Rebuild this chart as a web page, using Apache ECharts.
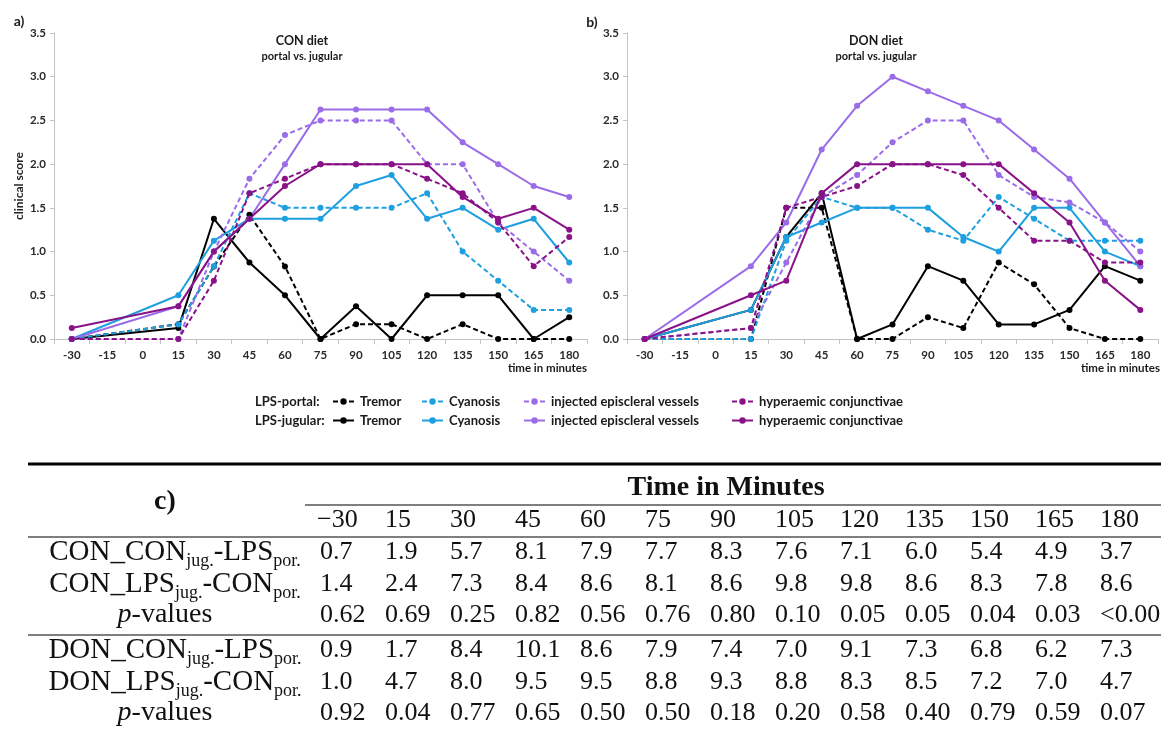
<!DOCTYPE html>
<html>
<head>
<meta charset="utf-8">
<script src="https://cdn.jsdelivr.net/npm/echarts@6/dist/echarts.min.js"></script>
<style>
  html, body { margin: 0; padding: 0; background: #fff; }
  #main { width: 1161px; height: 731px; }
</style>
</head>
<body>
<div id="main"></div>
<script>
// Sampling times (minutes); -15 and 0 have no observations
const times = ['-30', '-15', '0', '15', '30', '45', '60', '75', '90', '105', '120', '135', '150', '165', '180'];
const yTicks = [0, 0.5, 1, 1.5, 2, 2.5, 3, 3.5];

// CON diet, mean clinical scores
const conPortalTremor = [0, null, null, 0.17, 0.83, 1.42, 0.83, 0, 0.17, 0.17, 0, 0.17, 0, 0, 0];
const conJugTremor    = [0, null, null, 0.125, 1.375, 0.875, 0.5, 0, 0.375, 0, 0.5, 0.5, 0.5, 0, 0.25];
const conPortalCyan   = [0, null, null, 0.167, 0.833, 1.667, 1.5, 1.5, 1.5, 1.5, 1.667, 1.0, 0.667, 0.333, 0.333];
const conJugCyan      = [0, null, null, 0.5, 1.125, 1.375, 1.375, 1.375, 1.75, 1.875, 1.375, 1.5, 1.25, 1.375, 0.875];
const conPortalInj    = [0, null, null, 0, 1.0, 1.833, 2.333, 2.5, 2.5, 2.5, 2.0, 2.0, 1.333, 1.0, 0.667];
const conJugInj       = [0, null, null, 0.375, 1.0, 1.375, 2.0, 2.625, 2.625, 2.625, 2.625, 2.25, 2.0, 1.75, 1.625];
const conPortalHyp    = [0, null, null, 0, 0.667, 1.667, 1.833, 2.0, 2.0, 2.0, 1.833, 1.667, 1.333, 0.833, 1.167];
const conJugHyp       = [0.125, null, null, 0.375, 1.0, 1.375, 1.75, 2.0, 2.0, 2.0, 2.0, 1.625, 1.375, 1.5, 1.25];

// DON diet, mean clinical scores
const donPortalTremor = [0, null, null, 0, 1.5, 1.5, 0, 0, 0.25, 0.125, 0.875, 0.625, 0.125, 0, 0];
const donJugTremor    = [0, null, null, 0.333, 1.167, 1.667, 0, 0.167, 0.833, 0.667, 0.167, 0.167, 0.333, 0.833, 0.667];
const donPortalCyan   = [0, null, null, 0, 1.125, 1.625, 1.5, 1.5, 1.25, 1.125, 1.625, 1.375, 1.125, 1.125, 1.125];
const donJugCyan      = [0, null, null, 0.333, 1.167, 1.333, 1.5, 1.5, 1.5, 1.167, 1.0, 1.5, 1.5, 1.0, 0.833];
const donPortalInj    = [0, null, null, 0.125, 0.875, 1.625, 1.875, 2.25, 2.5, 2.5, 1.875, 1.625, 1.5625, 1.333, 1.0];
const donJugInj       = [0, null, null, 0.833, 1.333, 2.167, 2.667, 3.0, 2.833, 2.667, 2.5, 2.167, 1.833, 1.333, 0.833];
const donPortalHyp    = [0, null, null, 0.125, 1.5, 1.625, 1.75, 2.0, 2.0, 1.875, 1.5, 1.125, 1.125, 0.875, 0.875];
const donJugHyp       = [0, null, null, 0.5, 0.667, 1.667, 2.0, 2.0, 2.0, 2.0, 2.0, 1.667, 1.333, 0.667, 0.333];

// Table c): values per time point
const tableTimes = ['\u221230', '15', '30', '45', '60', '75', '90', '105', '120', '135', '150', '165', '180'];
const conConJug = ['0.7', '1.9', '5.7', '8.1', '7.9', '7.7', '8.3', '7.6', '7.1', '6.0', '5.4', '4.9', '3.7'];
const conLpsJug = ['1.4', '2.4', '7.3', '8.4', '8.6', '8.1', '8.6', '9.8', '9.8', '8.6', '8.3', '7.8', '8.6'];
const conPValues = ['0.62', '0.69', '0.25', '0.82', '0.56', '0.76', '0.80', '0.10', '0.05', '0.05', '0.04', '0.03', '<0.001'];
const donConJug = ['0.9', '1.7', '8.4', '10.1', '8.6', '7.9', '7.4', '7.0', '9.1', '7.3', '6.8', '6.2', '7.3'];
const donLpsJug = ['1.0', '4.7', '8.0', '9.5', '9.5', '8.8', '9.3', '8.8', '8.3', '8.5', '7.2', '7.0', '4.7'];
const donPValues = ['0.92', '0.04', '0.77', '0.65', '0.50', '0.50', '0.18', '0.20', '0.58', '0.40', '0.79', '0.59', '0.07'];

const C_BLACK = '#000000';
const C_BLUE = '#1e9fe0';
const C_LAV = '#9a6ce8';
const C_PURP = '#8a1289';

const sans = 'Lato, "Open Sans", sans-serif';
const serif = '"Liberation Serif", "DejaVu Serif", serif';

function line(name, data, color, dashed, idx) {
  return {
    name, type: 'line', xAxisIndex: idx, yAxisIndex: idx, data,
    connectNulls: true, symbol: 'circle', symbolSize: 6, showSymbol: true,
    lineStyle: { color, width: 2, type: dashed ? [5, 3] : 'solid' },
    itemStyle: { color },
    emphasis: { disabled: true }
  };
}

const series = [];
[[0, [conPortalTremor, conJugTremor, conPortalCyan, conJugCyan, conPortalInj, conJugInj, conPortalHyp, conJugHyp]],
 [1, [donPortalTremor, donJugTremor, donPortalCyan, donJugCyan, donPortalInj, donJugInj, donPortalHyp, donJugHyp]]]
  .forEach(([idx, d]) => {
    series.push(line('portal Tremor', d[0], C_BLACK, true, idx));
    series.push(line('jugular Tremor', d[1], C_BLACK, false, idx));
    series.push(line('portal Cyanosis', d[2], C_BLUE, true, idx));
    series.push(line('jugular Cyanosis', d[3], C_BLUE, false, idx));
    series.push(line('portal injected episcleral vessels', d[4], C_LAV, true, idx));
    series.push(line('jugular injected episcleral vessels', d[5], C_LAV, false, idx));
    series.push(line('portal hyperaemic conjunctivae', d[6], C_PURP, true, idx));
    series.push(line('jugular hyperaemic conjunctivae', d[7], C_PURP, false, idx));
  });

const axisGray = '#c4c4c4';
const tickFont = { fontFamily: sans, fontSize: 11.5, fontWeight: 'bold', color: '#2a2a2a' };

function xAx(idx) {
  return {
    type: 'category', gridIndex: idx, data: times, boundaryGap: true,
    axisLine: { lineStyle: { color: axisGray, width: 1 } },
    axisTick: { show: true, length: 5, lineStyle: { color: axisGray } },
    axisLabel: Object.assign({ margin: 10, interval: 0 }, tickFont),
    splitLine: { show: false }
  };
}
function yAx(idx, name) {
  return {
    type: 'value', gridIndex: idx, min: yTicks[0], max: yTicks[yTicks.length - 1], interval: 0.5,
    name: name, nameLocation: 'middle', nameGap: 29, nameRotate: 90,
    nameTextStyle: { fontFamily: sans, fontSize: 12, fontWeight: 'bold', color: '#222' },
    axisLine: { show: true, lineStyle: { color: axisGray, width: 1 } },
    axisTick: { show: true, length: 4, lineStyle: { color: axisGray } },
    axisLabel: Object.assign({ margin: 8, formatter: v => v.toFixed(1) }, tickFont),
    splitLine: { show: false }
  };
}

// Legend: one component per entry so each sits in its own column
const legendCols = [
  ['Tremor', 332], ['Cyanosis', 421], ['injected episcleral vessels', 523], ['hyperaemic conjunctivae', 731]
];
const legends = [];
[['portal', 395], ['jugular', 414]].forEach(([route, top]) => {
  legendCols.forEach(([label, left]) => {
    legends.push({
      data: [route + ' ' + label], left, top, padding: 0,
      itemWidth: 21, itemHeight: 8, selectedMode: false,
      formatter: n => n.replace(/^(portal|jugular) /, ''),
      textStyle: { fontFamily: sans, fontSize: 13, fontWeight: 'bold', color: '#1a1a1a', padding: [0, 0, 0, 1] }
    });
  });
});

// Table graphics
const colX = i => 320 + 65 * i;
const g = [];
function txt(x, y, text, extra) {
  g.push({ type: 'text', x, y, silent: true,
    style: Object.assign({ text, align: 'left', verticalAlign: 'middle', fill: '#111', fontFamily: serif, fontSize: 26 }, extra || {}) });
}
function hline(x1, x2, y, w) {
  g.push({ type: 'line', silent: true, shape: { x1, y1: y, x2, y2: y }, style: { stroke: '#000', lineWidth: w } });
}
const subRich = {
  m: { fontFamily: serif, fontSize: 29, fill: '#111', lineHeight: 37, verticalAlign: 'middle' },
  s: { fontFamily: serif, fontSize: 18, fill: '#111', lineHeight: 18, verticalAlign: 'bottom' },
  i: { fontFamily: serif, fontSize: 28, fill: '#111', fontStyle: 'italic', lineHeight: 37, verticalAlign: 'middle' },
  n: { fontFamily: serif, fontSize: 28, fill: '#111', lineHeight: 37, verticalAlign: 'middle' }
};
function richLabel(x, y, text) {
  g.push({ type: 'text', x, y, silent: true,
    style: { text, rich: subRich, align: 'center', verticalAlign: 'middle', fill: '#111', fontFamily: serif, fontSize: 28 } });
}

hline(28, 1161, 464, 3);
hline(305, 1161, 505, 1.2);
hline(28, 1161, 537, 1.2);
hline(28, 1161, 635, 1.2);
txt(165, 502, 'c)', { align: 'center', fontWeight: 'bold', fontSize: 28 });
txt(726, 488, 'Time in Minutes', { align: 'center', fontWeight: 'bold', fontSize: 28 });
tableTimes.forEach((t, i) => txt(colX(i) - (i === 0 ? 3 : 0), 520, t));
const rows = [
  [552, '{m|CON_CON}{s|jug.}{m|-LPS}{s|por.}', conConJug, 175],
  [584, '{m|CON_LPS}{s|jug.}{m|-CON}{s|por.}', conLpsJug, 175],
  [615, '{i|p}{n|-values}', conPValues, 165],
  [650, '{m|DON_CON}{s|jug.}{m|-LPS}{s|por.}', donConJug, 175],
  [682, '{m|DON_LPS}{s|jug.}{m|-CON}{s|por.}', donLpsJug, 175],
  [713, '{i|p}{n|-values}', donPValues, 165]
];
rows.forEach(([y, label, vals, lx]) => {
  richLabel(lx, y, label);
  vals.forEach((v, i) => txt(colX(i), y, v));
});

// Chart annotations
function sTxt(x, y, text, size, align) {
  g.push({ type: 'text', x, y, silent: true,
    style: { text, align: align || 'center', verticalAlign: 'middle', fill: '#1a1a1a', fontFamily: sans, fontSize: size, fontWeight: 'bold' } });
}
sTxt(19, 21, 'a)', 14, 'center');
sTxt(592, 22, 'b)', 14, 'center');
sTxt(302, 41, 'CON diet', 12.5);
sTxt(302, 56, 'portal vs. jugular', 11);
sTxt(876, 41, 'DON diet', 12.5);
sTxt(876, 56, 'portal vs. jugular', 11);
sTxt(587, 368, 'time in minutes', 11.5, 'right');
sTxt(1160, 368, 'time in minutes', 11.5, 'right');
sTxt(255, 402, 'LPS-portal:', 13, 'left');
sTxt(255, 421, 'LPS-jugular:', 13, 'left');

const option = {
  backgroundColor: '#ffffff',
  animation: false,
  grid: [
    { left: 54, top: 33, width: 533, height: 306, containLabel: false },
    { left: 627, top: 33, width: 531, height: 306, containLabel: false }
  ],
  xAxis: [xAx(0), xAx(1)],
  yAxis: [yAx(0, 'clinical score'), yAx(1, '')],
  legend: legends,
  series,
  graphic: g
};

const chart = echarts.init(document.getElementById('main'), null, { renderer: 'canvas' });
chart.setOption(option);
</script>
</body>
</html>
